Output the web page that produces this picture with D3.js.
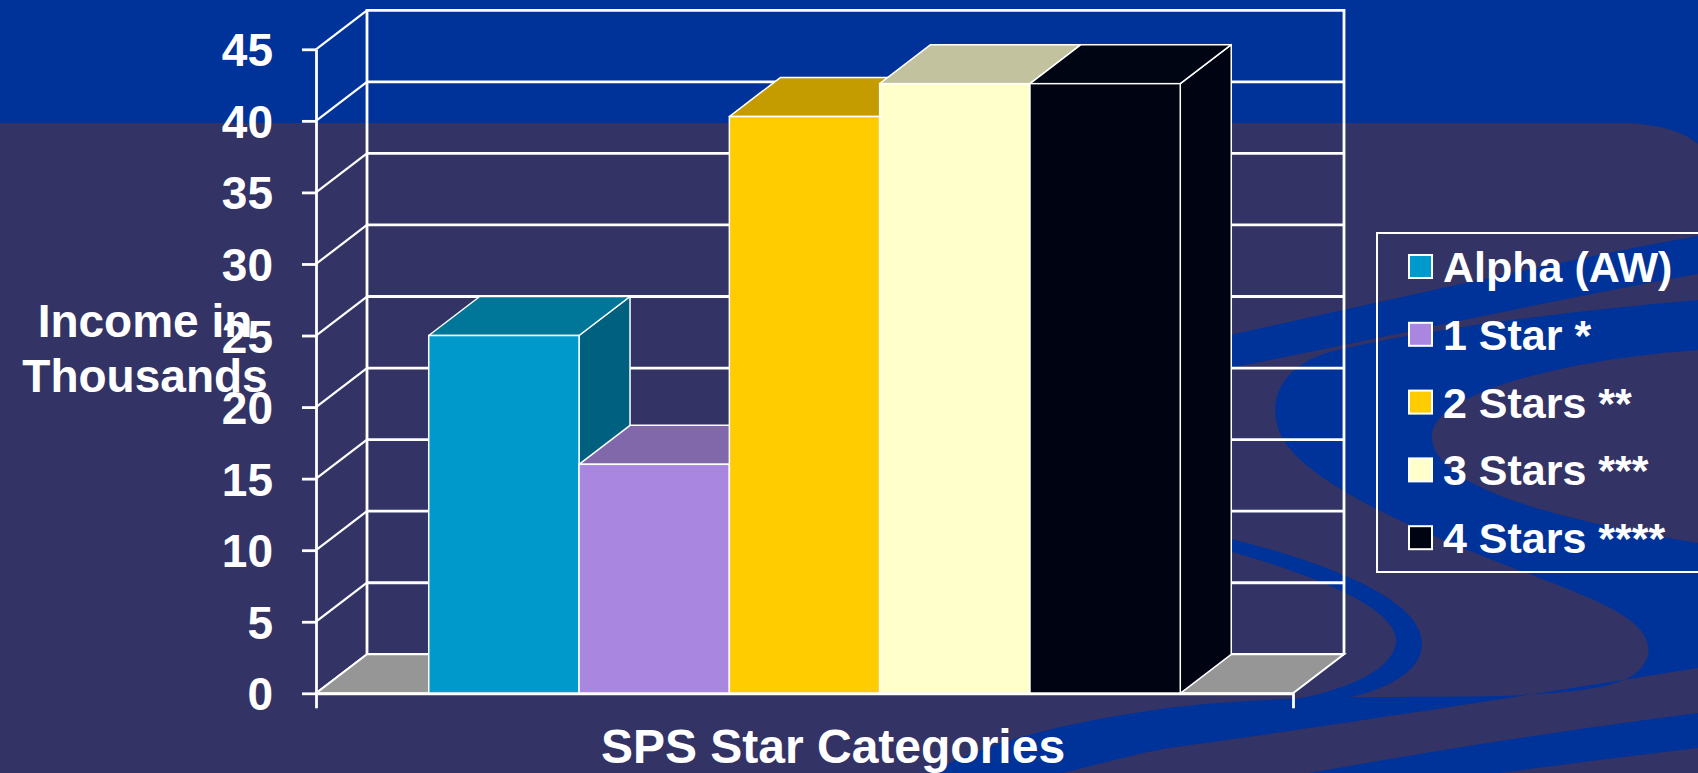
<!DOCTYPE html>
<html>
<head>
<meta charset="utf-8">
<script src="https://cdn.jsdelivr.net/npm/d3@7"></script>
<style>
  html, body { margin: 0; padding: 0; background: #333366; overflow: hidden; }
  svg { display: block; font-family: "Liberation Sans", Arial, Helvetica, sans-serif; font-weight: bold; }
</style>
</head>
<body>
<svg id="chart" width="1698" height="773"></svg>
<script>
// ---- data ----
const categories = ["Alpha (AW)", "1 Star *", "2 Stars **", "3 Stars ***", "4 Stars ****"];
const incomeThousands = [25, 16, 40.3, 42.6, 42.6];
const yTickValues = [0, 5, 10, 15, 20, 25, 30, 35, 40, 45];
const yTitleLines = ["Income in", "Thousands"];
const xTitle = "SPS Star Categories";

// ---- style ----
const palette = {
  front: ["#0099cc", "#a987e0", "#ffcc00", "#ffffcc", "#000412"],
  top:   ["#007799", "#8068aa", "#c49c00", "#c2c29e", "#000514"],
  side:  ["#006080", "#6a5490", "#a08000", "#a0a080", "#000412"]
};
const BG = "#333366", BAND = "#003399", LINE = "#ffffff", FLOOR = "#969696";

// ---- layout ----
const W = 1698, H = 773;
const plot = { left: 316, right: 1293, bottom: 693.3, top: 49.3 };
const depth = { dx: 51, dy: -39 };

const svg = d3.select("#chart");

// ---- slide background ----
const bg = svg.append("g").attr("class", "background");
bg.append("rect").attr("width", W).attr("height", H).attr("fill", BG);
bg.append("rect").attr("width", W).attr("height", 123).attr("fill", BAND);
const swooshes = [
  "M1630,123 C1660,125 1685,132 1698,144 L1698,123 Z",
  "M1150,352 C1350,310 1550,262 1698,236 L1698,274 C1550,300 1350,345 1150,384 Z",
  "M1698,300 C1560,312 1420,330 1330,352 C1285,365 1268,395 1278,428 " +
    "C1290,470 1380,515 1480,555 C1580,595 1655,615 1648,655 " +
    "C1640,688 1585,692 1500,696 C1400,698 1300,694 1176,707 " +
    "C1060,722 980,745 930,773 L1062,773 C1110,762 1140,752 1176,747 " +
    "C1300,730 1500,700 1698,668 L1698,543 " +
    "C1560,520 1440,490 1432,440 C1425,395 1560,360 1698,350 Z",
  "M1190,530 C1300,552 1425,595 1422,645 C1420,682 1360,700 1290,708 " +
    "L1290,700 C1350,690 1396,668 1396,640 C1396,605 1300,568 1190,541 Z",
  "M1309,773 C1450,748 1580,728 1698,713 L1698,748 C1620,757 1560,765 1500,773 Z"
];
bg.selectAll("path.swoosh").data(swooshes).join("path")
  .attr("class", "swoosh").attr("d", d => d).attr("fill", BAND);

// ---- scales ----
const y = d3.scaleLinear().domain([0, 45]).range([plot.bottom, plot.top]);
const x = d3.scaleBand().domain(categories).range([plot.left, plot.right])
  .paddingInner(0).paddingOuter(0.75);
const xEdge = d3.scaleLinear().domain([0, 1]).range([plot.left, plot.right]);

const chart = svg.append("g").attr("class", "chart");

// ---- walls: left side wall diagonals, back wall gridlines ----
const backLeft = plot.left + depth.dx, backRight = plot.right + depth.dx;
chart.append("g").selectAll("line").data(yTickValues).join("line")
  .attr("x1", plot.left).attr("y1", d => y(d))
  .attr("x2", backLeft).attr("y2", d => y(d) + depth.dy)
  .attr("stroke", LINE).attr("stroke-width", 2.2);
chart.append("g").selectAll("line").data(yTickValues).join("line")
  .attr("x1", backLeft).attr("x2", backRight)
  .attr("y1", d => y(d) + depth.dy).attr("y2", d => y(d) + depth.dy)
  .attr("stroke", LINE).attr("stroke-width", 2.8);
[backLeft, backRight].forEach(bx => {
  chart.append("line")
    .attr("x1", bx).attr("x2", bx)
    .attr("y1", y(45) + depth.dy - 1.4).attr("y2", y(0) + depth.dy)
    .attr("stroke", LINE).attr("stroke-width", 2.8);
});

// ---- floor ----
chart.append("polygon")
  .attr("points", [
    [plot.left, y(0)], [plot.right, y(0)],
    [backRight, y(0) + depth.dy], [backLeft, y(0) + depth.dy]
  ].map(p => p.join(",")).join(" "))
  .attr("fill", FLOOR).attr("stroke", LINE).attr("stroke-width", 2);

// ---- 3D columns (drawn left to right so each hides its neighbour's side) ----
const bars = chart.append("g").attr("class", "bars");
categories.forEach((cat, i) => {
  const v = incomeThousands[i];
  const x0 = x(cat), x1 = x0 + x.bandwidth();
  const yt = y(v), yb = y(0);
  const g = bars.append("g");
  const pts = a => a.map(p => p.join(",")).join(" ");
  g.append("polygon")
    .attr("points", pts([[x1, yt], [x1 + depth.dx, yt + depth.dy], [x1 + depth.dx, yb + depth.dy], [x1, yb]]))
    .attr("fill", palette.side[i]).attr("stroke", LINE).attr("stroke-width", 1.5).attr("stroke-linejoin", "round");
  g.append("polygon")
    .attr("points", pts([[x0, yt], [x0 + depth.dx, yt + depth.dy], [x1 + depth.dx, yt + depth.dy], [x1, yt]]))
    .attr("fill", palette.top[i]).attr("stroke", LINE).attr("stroke-width", 1.5).attr("stroke-linejoin", "round");
  g.append("rect")
    .attr("x", x0).attr("y", yt).attr("width", x.bandwidth()).attr("height", yb - yt)
    .attr("fill", palette.front[i]).attr("stroke", LINE).attr("stroke-width", 1.5);
});

// ---- axes ----
const yAxis = chart.append("g")
  .attr("transform", `translate(${plot.left},0)`)
  .call(d3.axisLeft(y).tickValues(yTickValues).tickSize(14).tickSizeOuter(0).tickPadding(29));
yAxis.select(".domain").attr("stroke", LINE).attr("stroke-width", 2.8);
yAxis.selectAll(".tick line").attr("stroke", LINE).attr("stroke-width", 2.8);
yAxis.selectAll(".tick text")
  .attr("fill", LINE).attr("font-size", 46).attr("font-weight", "bold")
  .attr("font-family", "'Liberation Sans', Arial, sans-serif").attr("dy", "0.36em");

const xAxis = chart.append("g")
  .attr("transform", `translate(0,${plot.bottom})`)
  .call(d3.axisBottom(xEdge).tickValues([0, 1]).tickFormat(() => "").tickSize(15).tickSizeOuter(0));
xAxis.select(".domain").attr("stroke", LINE).attr("stroke-width", 2.8);
xAxis.selectAll(".tick line").attr("stroke", LINE).attr("stroke-width", 2.8);

// ---- axis titles ----
const yTitle = svg.append("text")
  .attr("x", 145).attr("y", 337).attr("text-anchor", "middle")
  .attr("fill", LINE).attr("font-size", 46);
yTitleLines.forEach((line, i) => {
  yTitle.append("tspan").attr("x", 145).attr("dy", i === 0 ? 0 : 55).text(line);
});
svg.append("text")
  .attr("x", 833).attr("y", 763).attr("text-anchor", "middle")
  .attr("fill", LINE).attr("font-size", 48).text(xTitle);

// ---- legend ----
const legend = svg.append("g").attr("class", "legend");
legend.append("rect")
  .attr("x", 1377).attr("y", 233).attr("width", 360).attr("height", 339)
  .attr("fill", "none").attr("stroke", LINE).attr("stroke-width", 2);
const rows = legend.selectAll("g.row").data(categories).join("g")
  .attr("class", "row")
  .attr("transform", (d, i) => `translate(0,${282 + i * 67.8})`);
rows.append("rect")
  .attr("x", 1409).attr("y", -27).attr("width", 23).attr("height", 23)
  .attr("fill", (d, i) => palette.front[i]).attr("stroke", LINE).attr("stroke-width", 2);
rows.append("text")
  .attr("x", 1443).attr("y", 0)
  .attr("fill", LINE).attr("font-size", 43).text(d => d);
</script>
</body>
</html>
